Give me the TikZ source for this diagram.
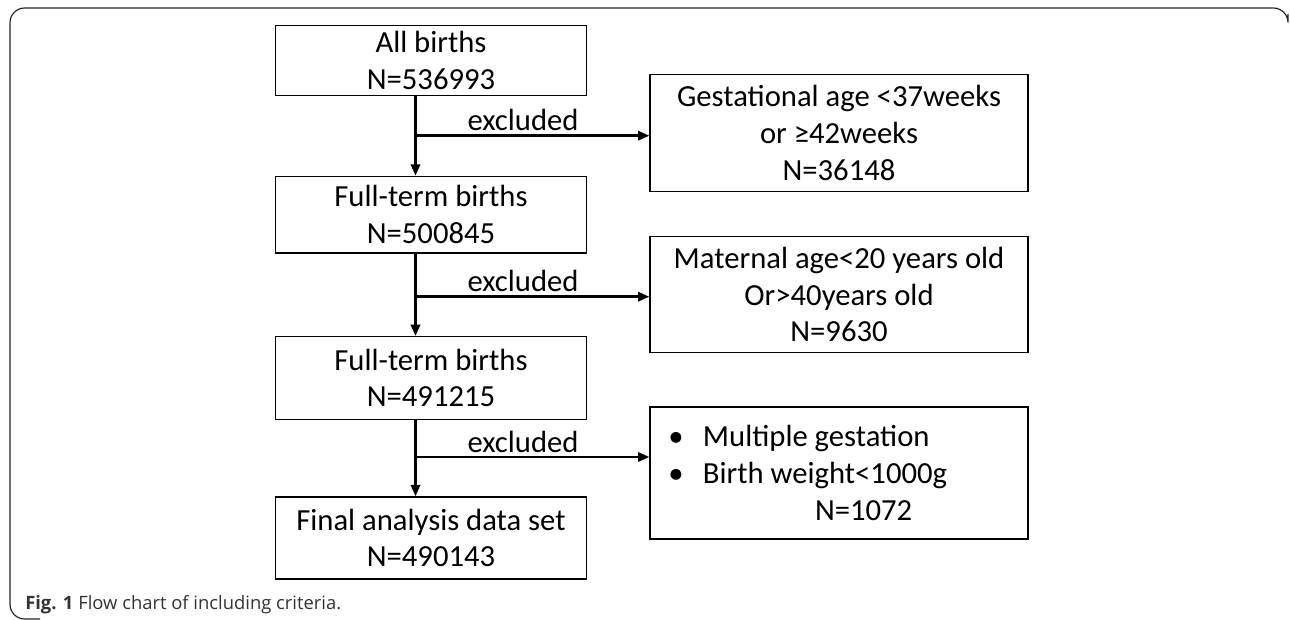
\documentclass[tikz,border=0pt]{standalone}
\usepackage{fontspec}
\setmainfont{Carlito}
\newfontfamily\captionfont{Open Sans}
\usetikzlibrary{arrows.meta, positioning}

\begin{document}
\begin{tikzpicture}[
    x=0.75pt, y=-0.75pt,
    box/.style={rectangle, draw, line width=1pt, minimum width=233.3pt, align=center, inner sep=2pt, font=\fontsize{23}{27.5}\selectfont},
    sidebox/.style={box, minimum width=283.5pt},
    arrow/.style={-{Triangle[length=8.5pt, width=7pt]}, line width=1.8pt},
    label/.style={above, pos=0.46, inner sep=2.5pt, font=\fontsize{23}{25}\selectfont},
    frame/.style={draw=black!85, line width=0.9pt, rounded corners=11pt}
]
\useasboundingbox (0,0) rectangle (1290,620);

% Frame
\draw[frame] (1288,14) |- (10,8) -- (10,619) -- (40,619);

% Main column
\node[box, minimum height=52.5pt] (all) at (431,60.7) {All births\\N=536993};
\node[box, minimum height=57.5pt, below=59.5pt of all] (full1) {Full-term births\\N=500845};
\node[box, minimum height=62pt, below=61.7pt of full1] (full2) {Full-term births\\N=491215};
\node[box, minimum height=61.5pt, below=57.2pt of full2] (final) {Final analysis data set\\N=490143};

% Junctions
\coordinate (j1) at (415.5,135.7);
\coordinate (j2) at (415.5,296.7);
\coordinate (j3) at (415.5,457);

% Excluded boxes
\node[sidebox, minimum height=88pt] (gest) at (839,133) {Gestational age <37weeks\\or ≥42weeks\\N=36148};
\node[sidebox, minimum height=87pt] (mat) at (839,294.7) {Maternal age<20 years old\\Or>40years old\\N=9630};
\node[sidebox, minimum height=99pt, align=left, text width=256pt] (mult) at (839,473)
    {\spaceskip=0pt\relax
     \mbox{\makebox[26pt][l]{\textbullet}Multiple gestation}\\
     \mbox{\makebox[26pt][l]{\textbullet}Birth weight<1000g}\\
     \mbox{\hspace*{110pt}N=1072}};

% Arrows
\draw[arrow] (all.south -| j1) -- (full1.north -| j1);
\draw[arrow] (j1) -- node[label] {excluded} (j1 -| gest.west);
\draw[arrow] (full1.south -| j2) -- (full2.north -| j2);
\draw[arrow] (j2) -- node[label] {excluded} (j2 -| mat.west);
\draw[arrow] (full2.south -| j3) -- (final.north -| j3);
\draw[arrow] (j3) -- node[label] {excluded} (j3 -| mult.west);

% Caption
\node[anchor=base west, inner sep=0pt, text=black!80, font=\captionfont\fontsize{13.8}{15}\selectfont] (caption) at (25,609)
    {\textbf{Fig. 1} Flow chart of including criteria.};

\end{tikzpicture}
\end{document}
